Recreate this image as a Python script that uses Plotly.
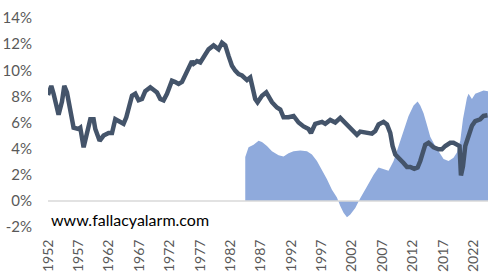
import plotly.graph_objects as go

# Dark line series (decimal year, %)
line_years = [1952.0, 1952.1, 1952.54, 1952.92, 1953.48, 1953.74, 1954.3, 1954.68, 1955.12, 1955.67,
              1956.21, 1957.03, 1957.31, 1957.86, 1958.41, 1958.96, 1959.5, 1959.78, 1960.49, 1961.14,
              1961.97, 1962.53, 1963.07, 1963.89, 1964.43, 1964.88, 1965.26, 1965.82, 1966.36, 1966.9,
              1967.46, 1968.0, 1968.83, 1969.37, 1969.93, 1970.47, 1971.01, 1971.57, 1972.39, 1972.94,
              1973.48, 1974.04, 1974.58, 1975.13, 1975.68, 1975.95, 1976.51, 1977.05, 1977.59, 1978.41,
              1979.24, 1980.06, 1980.62, 1981.16, 1981.7, 1982.26, 1982.8, 1983.35, 1983.91, 1984.73,
              1985.27, 1986.09, 1986.47, 1987.2, 1987.9, 1988.84, 1989.66, 1990.21, 1990.75, 1991.57,
              1992.4, 1993.22, 1994.04, 1994.86, 1995.26, 1995.96, 1997.07, 1997.61, 1998.43, 1999.26,
              2000.08, 2000.62, 2001.44, 2002.0, 2002.82, 2003.36, 2004.47, 2005.29, 2005.83, 2006.38,
              2007.2, 2007.76, 2008.3, 2008.68, 2009.13, 2009.95, 2010.49, 2011.05, 2011.59, 2012.25,
              2012.8, 2013.24, 2013.68, 2014.06, 2014.6, 2015.43, 2016.25, 2016.8, 2017.35, 2018.17,
              2018.71, 2019.27, 2019.7, 2019.93, 2020.26, 2020.64, 2021.18, 2021.74, 2022.28, 2023.1,
              2023.65, 2024.3]
line_values = [8.1, 8.3, 8.8, 8.2, 6.8, 6.6, 7.6, 8.8, 8.3, 7.0,
               5.6, 5.5, 5.6, 4.1, 5.2, 6.25, 6.25, 5.5, 4.6, 5.0,
               5.2, 5.2, 6.25, 6.0, 5.9, 6.4, 7.2, 8.05, 8.2, 7.7,
               7.8, 8.4, 8.7, 8.55, 8.3, 7.8, 7.7, 8.2, 9.2, 9.1,
               8.95, 9.1, 9.6, 10.1, 10.7, 10.5, 10.7, 10.6, 11.0, 11.6,
               11.9, 11.6, 12.1, 11.9, 11.1, 10.35, 9.97, 9.7, 9.6, 9.25,
               9.45, 7.8, 7.55, 8.05, 8.3, 7.55, 7.15, 7.0, 6.4, 6.4,
               6.5, 6.0, 5.7, 5.5, 5.2, 5.9, 6.05, 5.9, 6.2, 6.0,
               6.35, 6.1, 5.6, 5.4, 5.05, 5.3, 5.2, 5.15, 5.35, 5.85,
               6.05, 5.85, 5.2, 4.2, 3.55, 3.2, 2.9, 2.6, 2.6, 2.45,
               2.55, 3.05, 3.8, 4.3, 4.45, 4.1, 3.95, 3.95, 4.2, 4.45,
               4.45, 4.3, 4.2, 1.95, 2.65, 4.2, 5.1, 5.75, 6.1, 6.25,
               6.5, 6.55]

# Shaded area series (decimal year, %)
area_years = [1984.45, 1984.99, 1985.82, 1986.64, 1987.2, 1988.02, 1988.84, 1989.93, 1990.75, 1991.57,
              1992.4, 1993.5, 1994.6, 1995.42, 1996.24, 1997.07, 1997.89, 1998.71, 1999.53, 2000.08,
              2000.62, 2001.18, 2001.73, 2002.55, 2003.09, 2003.36, 2004.47, 2005.56, 2006.38, 2007.2,
              2008.02, 2008.85, 2009.67, 2010.49, 2011.31, 2012.14, 2012.8, 2013.24, 2013.78, 2014.34,
              2014.88, 2015.7, 2016.53, 2017.07, 2017.89, 2018.71, 2019.27, 2019.82, 2020.26, 2020.64,
              2020.92, 2021.18, 2021.74, 2022.28, 2022.83, 2023.65, 2024.38]
area_values = [3.35, 4.1, 4.3, 4.6, 4.5, 4.2, 3.8, 3.5, 3.4, 3.65,
               3.8, 3.85, 3.8, 3.55, 3.05, 2.4, 1.65, 0.85, 0.25, -0.4,
               -0.9, -1.25, -1.05, -0.55, 0.0, 0.2, 1.1, 2.0, 2.55, 2.4,
               2.3, 3.05, 4.2, 5.5, 6.5, 7.3, 7.6, 7.3, 6.7, 5.8,
               4.9, 4.2, 3.55, 3.2, 3.05, 3.3, 3.7, 4.6, 6.25, 7.3,
               7.9, 8.2, 7.8, 8.2, 8.3, 8.45, 8.4]

x_ticks = list(range(1952, 2023, 5))
y_ticks = [-2, 0, 2, 4, 6, 8, 10, 12, 14]
y_tick_labels = [f"{v}%" for v in y_ticks]

FONT = "Lato"
GRAY = "#595959"

fig = go.Figure()
fig.add_trace(go.Scatter(x=area_years, y=area_values, mode="lines", fill="tozeroy",
                         line=dict(width=0, color="#8FAADC"), fillcolor="#8FAADC",
                         hoverinfo="skip", showlegend=False))
fig.add_trace(go.Scatter(x=line_years, y=line_values, mode="lines",
                         line=dict(width=4.5, color="#44546A"),
                         showlegend=False))

fig.add_shape(type="line", xref="paper", x0=0, x1=1, yref="y", y0=0, y1=0,
              line=dict(color="#D9D9D9", width=1.5), layer="above")

fig.add_annotation(text="www.fallacyalarm.com", xref="paper", yref="y",
                   x=0.003, y=-1.45, xanchor="left", yanchor="middle", showarrow=False,
                   font=dict(family=FONT, size=16, color="#000000"))

fig.update_layout(
    width=496, height=272,
    margin=dict(l=48, r=8, t=18, b=45),
    paper_bgcolor="white", plot_bgcolor="white",
    font=dict(family=FONT, size=14, color=GRAY),
)
fig.update_xaxes(range=[1952, 2024.38], tickvals=x_ticks, ticktext=[str(t) for t in x_ticks],
                 tickangle=-90, showgrid=False, zeroline=False, showline=False,
                 ticks="outside", ticklen=6, tickcolor="rgba(0,0,0,0)",
                 tickfont=dict(family=FONT, size=14, color=GRAY), automargin=False)
fig.update_yaxes(range=[-2, 14], tickvals=y_ticks, ticktext=y_tick_labels,
                 showgrid=False, zeroline=False, showline=False,
                 ticks="outside", ticklen=12, tickcolor="rgba(0,0,0,0)",
                 tickfont=dict(family=FONT, size=15, color=GRAY), automargin=False)

fig.write_html("out.html")
